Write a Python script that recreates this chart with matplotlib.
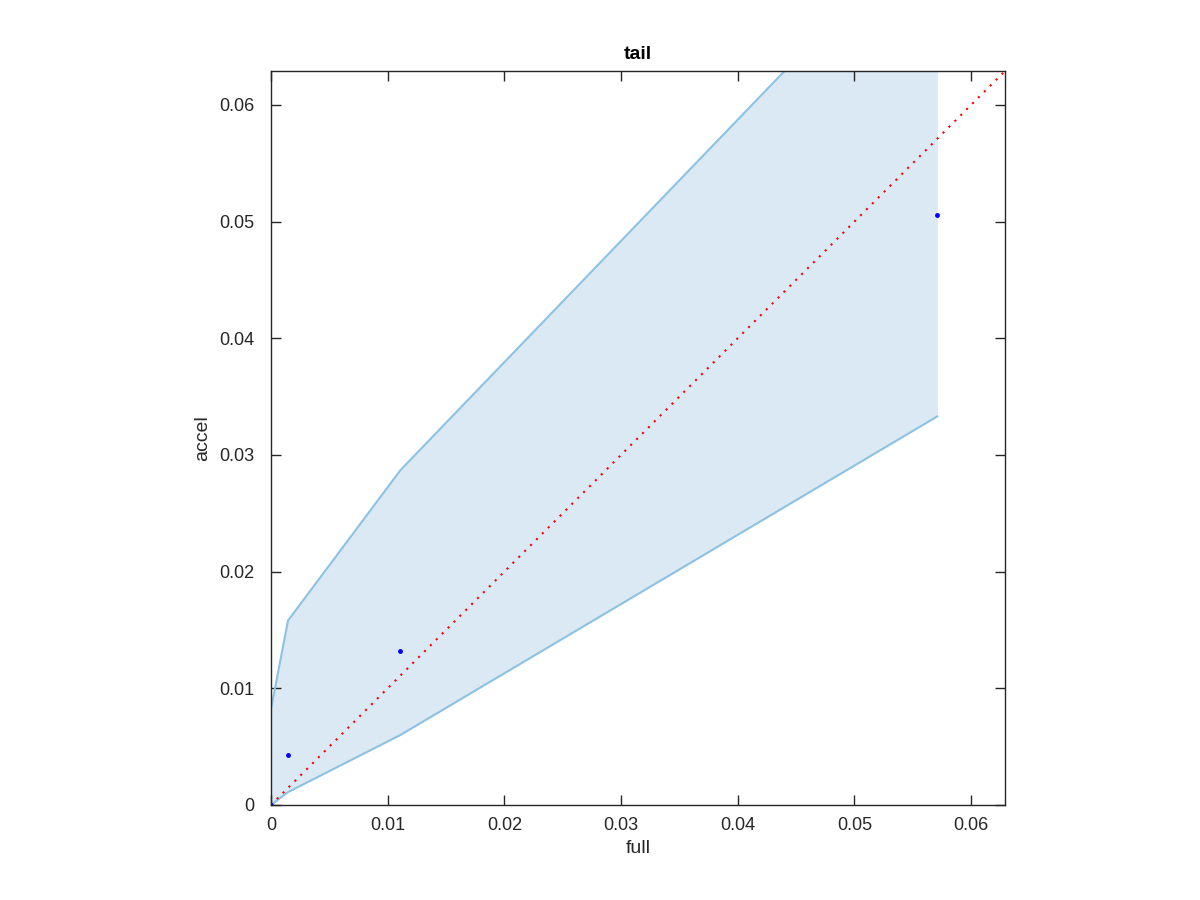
import matplotlib
matplotlib.use('Agg')
from matplotlib import pyplot as plt

# values
full = [0.0, 0.00146, 0.0111, 0.0571]
accel = [0.0, 0.0043, 0.0132, 0.0506]
upper = [0.0082, 0.0158, 0.0287, 0.0765]
lower = [0.0, 0.0011, 0.0060, 0.0333]
ticks = [0, 0.01, 0.02, 0.03, 0.04, 0.05, 0.06]
lim = 0.0629

plt.rcParams['font.family'] = ['Liberation Sans', 'DejaVu Sans']

fig = plt.figure(figsize=(12, 9), dpi=100)
ax = fig.add_axes([0.2258, 0.1056, 0.6117, 0.8155])

ax.fill_between(full, lower, upper, color='#dae9f4', linewidth=0)
ax.plot(full, upper, color='#8cc2e2', linewidth=1.5)
ax.plot(full, lower, color='#8cc2e2', linewidth=1.5)
ax.plot([0, lim], [0, lim], color='red', linestyle=(0, (1, 3)), linewidth=1.5)
ax.plot(full, accel, '.', color='blue', markersize=5)

ax.set_xlim(0, lim)
ax.set_ylim(0, lim)
ax.set_xticks(ticks)
ax.set_yticks(ticks)
ax.set_xticklabels(['0', '0.01', '0.02', '0.03', '0.04', '0.05', '0.06'])
ax.set_yticklabels(['0', '0.01', '0.02', '0.03', '0.04', '0.05', '0.06'])
ax.tick_params(direction='in', top=True, right=True, length=7, width=1,
               labelsize=13, color='#262626', labelcolor='#262626')
ax.tick_params(axis='x', pad=9)
ax.tick_params(axis='y', pad=12)
for s in ax.spines.values():
    s.set_color('#262626')
    s.set_linewidth(1)

ax.set_xlabel('full', fontsize=14, color='#262626', labelpad=4)
ax.set_ylabel('accel', fontsize=14, color='#262626', labelpad=6)
ax.set_title('tail', fontsize=14, fontweight='bold', pad=9)

fig.savefig('out.png')
